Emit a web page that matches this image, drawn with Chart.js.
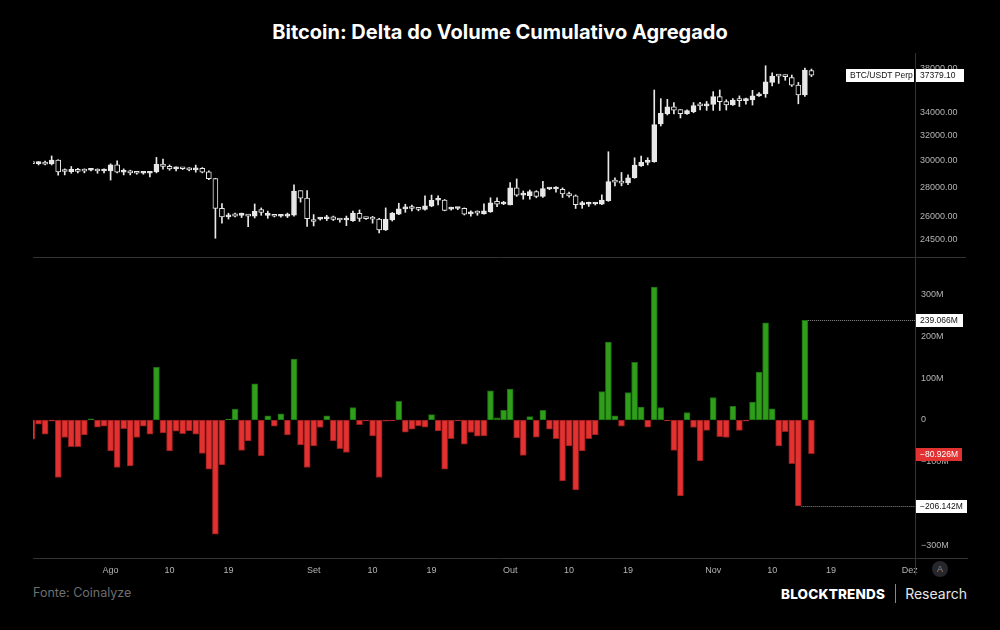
<!DOCTYPE html>
<html>
<head>
<meta charset="utf-8">
<script src="https://cdn.jsdelivr.net/npm/chart.js@4.4.0/dist/chart.umd.min.js"></script>
<style>
  html, body { margin:0; padding:0; background:#000; }
  body { width:1000px; height:630px; position:relative; overflow:hidden; font-family:Inter, 'Liberation Sans', sans-serif; }
  #title { position:absolute; top:20px; left:0; width:1000px; text-align:center; color:#fff; font:700 20px Inter, sans-serif; }
  #priceChart { position:absolute; left:0; top:50px; }
  #deltaChart { position:absolute; left:0; top:257px; }
  #autoBtn { position:absolute; left:932px; top:561px; width:16px; height:16px; border-radius:50%; background:#26262b; color:#8a8a90; font:9px 'Liberation Sans', sans-serif; text-align:center; line-height:16px; }
  #source { position:absolute; left:33px; top:585px; color:#6e6e6e; font:12.5px Inter, sans-serif; }
  #brand { position:absolute; right:33px; top:584px; color:#fff; font:14px Inter, sans-serif; display:flex; align-items:center; }
  #brand b { font-weight:800; letter-spacing:0.2px; font-size:13.5px; }
  #brand i { display:inline-block; width:1px; height:19px; background:#888; margin:0 9px 0 10px; }
  #brand span { color:#e6e6e6; font-weight:400; }
</style>
</head>
<body>
<div id="title">Bitcoin: Delta do Volume Cumulativo Agregado</div>
<canvas id="priceChart" width="1000" height="208"></canvas>
<canvas id="deltaChart" width="1000" height="321"></canvas>
<div id="autoBtn">A</div>
<div id="source">Fonte: Coinalyze</div>
<div id="brand"><b>BLOCKTRENDS</b><i></i><span>Research</span></div>
<script>
// daily candles, 20 Jul 2023 -> 16 Nov 2023 (index 0 = 20 Jul)
const openP = [29900,29800,29920,29770,30080,29240,29190,29370,29250,29300,29280,29240,29250,29700,29150,29180,29100,29070,29070,29170,
  29770,29600,29400,29420,29450,29330,29450,29180,28680,26570,26000,26200,26100,26100,26050,26480,26100,26050,26040,26050,
  26110,27800,27280,25800,25850,25870,26000,25800,25790,25740,26240,25900,25880,25850,25140,25800,26180,26530,26580,26560,
  26500,26720,27130,27140,26520,26560,26570,26200,26270,26190,26330,27050,26870,26810,28000,27490,27450,27740,27400,27920,
  27920,27900,27600,27430,26820,26850,26870,26860,27100,28450,28420,28360,28740,29620,29900,29950,32990,33880,34470,34230,
  33880,34040,34590,34560,34690,35380,34930,34650,35080,35020,35080,35450,35630,36700,37310,37300,37150,36450,35540,37820];
const highP = [30000,29950,30000,30390,30100,29400,29580,29450,29400,29360,29400,29400,29780,30020,29400,29300,29150,29150,29200,30280,
  30150,29700,29550,29450,29500,29690,29500,29250,28700,26900,26240,26250,26250,26150,26870,26600,26380,26100,26100,26250,
  28230,27800,27800,26150,25950,26100,26050,25900,26050,26390,26460,25950,26030,25900,26600,26290,26920,26850,26800,26600,
  27430,27490,27430,27180,26650,26620,26600,26400,26400,26880,27300,27300,27050,28390,28650,27780,27850,27800,28480,27970,
  28100,28000,27700,27500,27050,27000,26950,27500,30720,28730,29130,28950,30250,30390,30250,35990,35200,35140,34840,34230,
  34200,34850,34860,34950,35840,35990,35100,35200,35450,35250,35960,35750,38300,37600,37400,37400,37400,36700,38080,37980];
const lowP = [29700,29700,29700,29700,28930,28950,29070,29100,29100,29250,29070,29100,28570,29100,28950,28950,29000,29000,28800,29100,
  29380,29300,29250,29350,29250,29150,29100,28600,24610,25580,25850,25990,25950,25350,25920,26100,25900,25990,25980,25950,
  26050,27000,25360,25400,25780,25750,25750,25650,25420,25700,25700,25820,25580,24940,25100,25720,26140,26300,26400,26400,
  26450,26680,26800,26400,26450,26480,26120,26050,26100,26170,26300,26690,26820,26810,27400,27200,27200,27300,27330,27870,
  27690,27320,27350,26560,26570,26700,26800,26820,27050,28150,28150,28230,28700,29580,29700,29900,32820,33760,33850,33500,
  33800,33950,34190,34160,34160,34150,34190,34600,34500,34700,34630,35400,35320,36380,36600,36900,36320,34740,35400,37250];
const closeP = [29800,29850,29750,30080,29170,29200,29370,29200,29230,29310,29240,29280,29700,29150,29180,29100,29070,29080,29170,29750,
  29580,29400,29420,29410,29330,29340,29150,28680,26570,25990,26040,26050,26110,26050,26360,26290,26130,26040,26050,26110,
  27780,27280,25880,25690,25870,25950,25820,25790,25800,26250,25900,25880,25850,25140,25850,26250,26530,26580,26560,26500,
  26740,27130,27140,26430,26560,26570,26180,26270,26250,26400,26950,26860,26990,28000,27490,27550,27740,27400,27950,27920,
  27940,27570,27430,26820,26850,26870,26880,27140,28450,28420,28350,28740,29690,29900,29950,32930,33910,34470,34170,33880,
  34130,34590,34560,34650,35380,34930,34650,35080,35020,35050,35450,35630,36760,37310,37300,37250,36450,35540,37880,37379.1];

// aggregated cumulative volume delta per day, millions USD
const deltaM = [-46,-10,-34,-3,-138,-42,-64,-64,-36,3,-17,-15,-74,-114,-21,-110,-42,-15,-34,126,
  -31,-74,-27,-33,-26,-34,-80,-118,-274,-108,2,26,-73,-50,87,-86,10,-15,15,-36,
  146,-60,-114,-62,-18,10,-50,-69,-78,30,-11,-2,-38,-138,-3,-2,45,-29,-22,-14,
  -17,13,-26,-118,-45,-2,-58,-30,-39,-38,70,5,23,74,-43,-85,8,-41,23,-22,
  -45,-146,-62,-168,-74,-45,-36,68,187,10,-15,66,138,31,-17,319,30,-2,-73,-182,
  18,-18,-98,-25,54,-40,-42,33,-25,-3,43,115,233,27,-62,-28,-105,-206.142,239.066,-80.926];

const xTickPos = [12, 21, 30, 43, 52, 61, 73, 82, 91, 104, 113, 122, 134];
const xTickLabels = ['Ago', '10', '19', 'Set', '10', '19', 'Out', '10', '19', 'Nov', '10', '19', 'Dez'];
const priceTicks = [24500, 26000, 28000, 30000, 32000, 34000, 38000];
const deltaTicks = [-300, -200, -100, 0, 100, 200, 300];
const markedDeltas = [239.066, -206.142];
const symbolName = 'BTC/USDT Perp';

const X_MIN = 0.153, X_MAX = 134.81;
const CANDLE = '#e8e8e8', GREEN = '#2f9e1b', GREEN_B = '#1d6a10', RED = '#e23131', RED_B = '#8e1c1c';
const AXIS_FONT = { size: 9, family: "'Liberation Sans', sans-serif" };
const AXIS_LINE = '#333';

const idx = closeP.map((_, i) => i);
const lastPrice = closeP[closeP.length - 1];
const lastDelta = deltaM[deltaM.length - 1];

function fmtM(v){
  return (v < 0 ? '\u2212' : '') + Math.abs(v).toFixed(3) + 'M';
}

// right axis: fixed width, and no extra room reserved for the end labels
function fixAxis(s){
  s.width = 85;
  s.paddingTop = 0;
  s.paddingBottom = 0;
}

function drawTag(ctx, x, yPix, text, bg, fg, w){
  ctx.fillStyle = bg;
  ctx.fillRect(x, Math.round(yPix) - 6, w, 13);
  ctx.fillStyle = fg;
  ctx.font = "8.5px 'Liberation Sans', sans-serif";
  ctx.textBaseline = 'middle';
  ctx.textAlign = 'left';
  ctx.fillText(text, x + 4, Math.round(yPix) + 1);
}

const priceOverlay = {
  id: 'priceOverlay',
  afterDraw(chart){
    const { ctx, chartArea: a, scales: { y } } = chart;
    ctx.save();
    ctx.strokeStyle = AXIS_LINE;
    ctx.lineWidth = 1;
    ctx.beginPath();
    ctx.moveTo(a.right + 0.5, a.top);
    ctx.lineTo(a.right + 0.5, chart.height);
    ctx.stroke();
    const py = y.getPixelForValue(lastPrice);
    drawTag(ctx, a.right - 69, py, symbolName, '#fff', '#111', 68);
    drawTag(ctx, a.right + 1, py, lastPrice.toFixed(2), '#fff', '#111', 48);
    ctx.restore();
  }
};

const deltaOverlay = {
  id: 'deltaOverlay',
  afterDraw(chart){
    const { ctx, chartArea: a, scales: { x, y } } = chart;
    ctx.save();
    ctx.strokeStyle = AXIS_LINE;
    ctx.lineWidth = 1;
    ctx.beginPath();
    ctx.moveTo(33, 0.5); ctx.lineTo(966, 0.5);
    ctx.moveTo(33, a.bottom + 0.5); ctx.lineTo(968, a.bottom + 0.5);
    ctx.moveTo(a.right + 0.5, 0); ctx.lineTo(a.right + 0.5, a.bottom + 17);
    ctx.stroke();

    // dotted guides from the extreme bars to the axis
    ctx.strokeStyle = '#8a8a8a';
    ctx.setLineDash([1, 1]);
    markedDeltas.forEach(v => {
      const i = deltaM.indexOf(v);
      const yy = Math.round(y.getPixelForValue(v)) + 0.5;
      ctx.beginPath();
      ctx.moveTo(x.getPixelForValue(i) + 3, yy);
      ctx.lineTo(a.right, yy);
      ctx.stroke();
    });
    ctx.setLineDash([]);

    drawTag(ctx, a.right + 1, y.getPixelForValue(markedDeltas[0]), fmtM(markedDeltas[0]), '#fff', '#111', 47);
    drawTag(ctx, a.right + 1, y.getPixelForValue(lastDelta), fmtM(lastDelta), RED, '#fff', 46);
    drawTag(ctx, a.right + 1, y.getPixelForValue(markedDeltas[1]), fmtM(markedDeltas[1]), '#fff', '#111', 51);
    ctx.restore();
  }
};

new Chart(document.getElementById('priceChart'), {
  type: 'bar',
  data: {
    datasets: [
      {
        label: 'corpo',
        data: idx.map(i => ({ x: i, y: [Math.min(openP[i], closeP[i]), Math.max(openP[i], closeP[i])] })),
        backgroundColor: idx.map(i => closeP[i] >= openP[i] ? CANDLE : '#000'),
        borderColor: CANDLE,
        borderWidth: 1,
        borderSkipped: false,
        barThickness: 5,
        minBarLength: 2,
        grouped: false,
        clip: 0
      },
      {
        label: 'pavio',
        data: idx.map(i => ({ x: i, y: [lowP[i], highP[i]] })),
        backgroundColor: CANDLE,
        barThickness: 1,
        grouped: false,
        clip: 0
      }
    ]
  },
  options: {
    responsive: false,
    animation: false,
    layout: { padding: { left: 33, right: 0, top: 3, bottom: 2 } },
    plugins: { legend: { display: false }, tooltip: { enabled: false } },
    scales: {
      x: { type: 'linear', display: false, offset: false, min: X_MIN, max: X_MAX },
      y: {
        type: 'logarithmic',
        position: 'right',
        min: 23514,
        max: 39573,
        afterFit: fixAxis,
        afterBuildTicks: s => { s.ticks = priceTicks.map(v => ({ value: v })); },
        grid: { display: false, drawTicks: false },
        border: { display: false },
        ticks: { color: '#b4b4b4', font: AXIS_FONT, padding: 5, callback: v => Number(v).toFixed(2) }
      }
    }
  },
  plugins: [priceOverlay]
});

new Chart(document.getElementById('deltaChart'), {
  type: 'bar',
  data: {
    datasets: [{
      label: 'Delta',
      data: idx.map(i => ({ x: i, y: deltaM[i] })),
      backgroundColor: deltaM.map(v => v >= 0 ? GREEN : RED),
      borderColor: deltaM.map(v => v >= 0 ? GREEN_B : RED_B),
      borderWidth: 1,
      borderSkipped: false,
      barThickness: 6,
      grouped: false,
      clip: 0
    }]
  },
  options: {
    responsive: false,
    animation: false,
    layout: { padding: { left: 33, right: 0, top: 1, bottom: 0 } },
    plugins: { legend: { display: false }, tooltip: { enabled: false } },
    scales: {
      x: {
        type: 'linear',
        offset: false,
        min: X_MIN,
        max: X_MAX,
        afterBuildTicks: s => { s.ticks = xTickPos.map(v => ({ value: v })); },
        afterFit: s => { s.height = 20; s.paddingLeft = 0; s.paddingRight = 0; },
        grid: { display: false, drawTicks: false },
        border: { display: false },
        ticks: { autoSkip: false, maxRotation: 0, color: '#b4b4b4', font: AXIS_FONT, padding: 7,
                 callback: (v, i) => xTickLabels[i] }
      },
      y: {
        position: 'right',
        min: -331,
        max: 388.5,
        afterFit: fixAxis,
        afterBuildTicks: s => { s.ticks = deltaTicks.map(v => ({ value: v })); },
        grid: { display: false, drawTicks: false },
        border: { display: false },
        ticks: { color: '#b4b4b4', font: AXIS_FONT, padding: 6,
                 callback: v => v === 0 ? '0' : (v < 0 ? '\u2212' : '') + Math.abs(v) + 'M' }
      }
    }
  },
  plugins: [deltaOverlay]
});
</script>
</body>
</html>
